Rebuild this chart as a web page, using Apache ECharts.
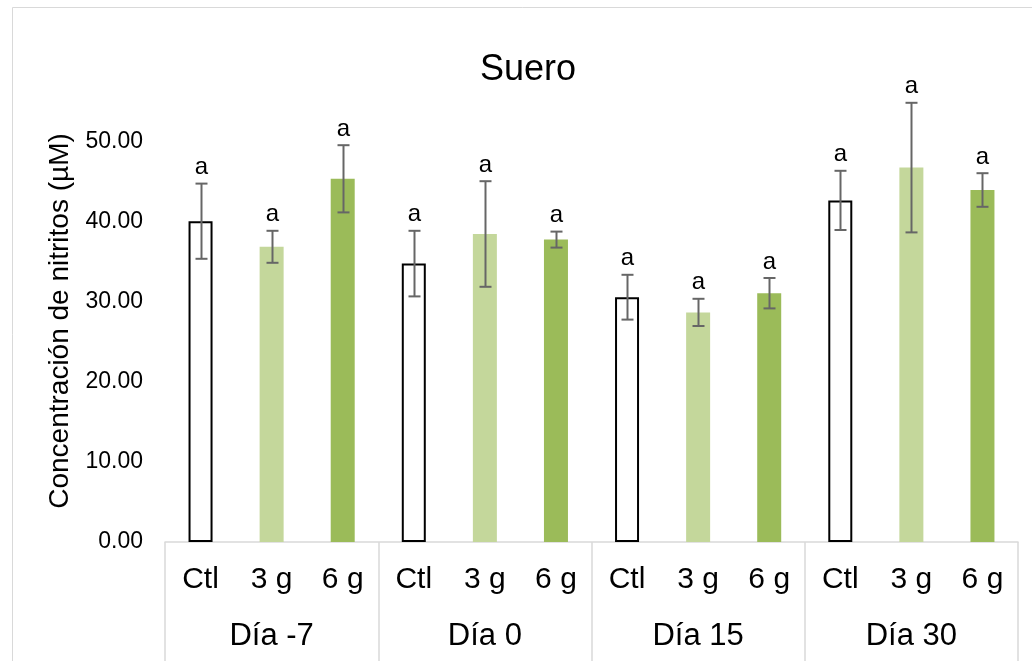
<!DOCTYPE html>
<html>
<head>
<meta charset="utf-8">
<script src="https://cdn.jsdelivr.net/npm/echarts@6/dist/echarts.min.js"></script>
<style>
html,body{margin:0;padding:0;background:#fff;}
#main{width:1032px;height:661px;}
</style>
</head>
<body>
<div id="main"></div>
<script>
// ---- data ----
var groups = ['Día -7', 'Día 0', 'Día 15', 'Día 30'];
var treatments = ['Ctl', '3 g', '6 g'];
var ctlMean = [40.1, 34.8, 30.6, 42.7];
var g3Mean  = [36.9, 38.5, 28.7, 46.8];
var g6Mean  = [45.4, 37.8, 31.1, 44.0];
var ctlErr  = [4.7, 4.1, 2.8, 3.7];
var g3Err   = [2.0, 6.6, 1.7, 8.1];
var g6Err   = [4.2, 1.0, 1.9, 2.1];
var letters = ['a', 'a', 'a', 'a', 'a', 'a', 'a', 'a', 'a', 'a', 'a', 'a'];
var yTicks = [0, 10, 20, 30, 40, 50];
var yTitle = 'Concentración de nitritos (µM)';

// ---- build ----
var means = [ctlMean, g3Mean, g6Mean];
var errs = [ctlErr, g3Err, g6Err];
var styles = [
  {color: '#ffffff', borderColor: '#000000', borderWidth: 2},
  {color: '#c4d79b', borderWidth: 0},
  {color: '#9bbb59', borderWidth: 0}
];
var inner = [], barData = [], errData = [];
for (var g = 0; g < groups.length; g++) {
  for (var t = 0; t < treatments.length; t++) {
    var idx = inner.length;
    inner.push(treatments[t]);
    barData.push({value: means[t][g], itemStyle: styles[t]});
    errData.push([idx, means[t][g], errs[t][g], letters[idx]]);
  }
}

var chart = echarts.init(document.getElementById('main'));
var font = 'Liberation Sans, Arial, sans-serif';
chart.setOption({
  animation: false,
  backgroundColor: '#ffffff',
  title: {
    text: 'Suero',
    left: 475,
    top: 47,
    textStyle: {fontFamily: font, fontSize: 36, fontWeight: 'normal', color: '#000'}
  },
  graphic: [{
    type: 'rect',
    shape: {x: 12.5, y: 7.5, width: 1040, height: 680},
    style: {fill: 'none', stroke: '#d9d9d9', lineWidth: 1},
    silent: true
  }, {
    type: 'text',
    x: 60, y: 321,
    rotation: Math.PI / 2,
    style: {text: yTitle, font: '28px ' + font, fill: '#000',
      textAlign: 'center', textVerticalAlign: 'middle'},
    silent: true
  }],
  grid: {left: 165, right: 14, top: 142, bottom: 119, containLabel: false},
  xAxis: [{
    type: 'category',
    data: inner,
    position: 'bottom',
    axisLine: {show: true, lineStyle: {color: '#d9d9d9', width: 1.5}},
    axisTick: {show: false},
    axisLabel: {fontFamily: font, fontSize: 30, color: '#000', margin: 23, interval: 0}
  }, {
    type: 'category',
    data: groups,
    position: 'bottom',
    offset: 0,
    axisLine: {show: false},
    axisTick: {show: true, length: 125, lineStyle: {color: '#d9d9d9', width: 1.5}},
    axisLabel: {fontFamily: font, fontSize: 31, color: '#000', margin: 79, interval: 0}
  }],
  yAxis: {
    type: 'value',
    min: yTicks[0],
    max: yTicks[yTicks.length - 1],
    interval: 10,
    axisLine: {show: false},
    axisTick: {show: false},
    splitLine: {show: false},
    axisLabel: {fontFamily: font, fontSize: 23, color: '#000', margin: 22,
      formatter: function (v) { return v.toFixed(2); }}
  },
  series: [{
    type: 'bar',
    xAxisIndex: 0,
    barWidth: 24,
    data: barData
  }, {
    type: 'custom',
    xAxisIndex: 0,
    clip: false,
    z: 10,
    data: errData,
    renderItem: function (params, api) {
      var x = api.value(0), m = api.value(1), e = api.value(2);
      var top = api.coord([x, m + e]);
      var bot = api.coord([x, m - e]);
      var cx = Math.round(top[0]) + 0.5;
      var hw = 6;
      var ls = {stroke: '#666666', lineWidth: 2};
      return {
        type: 'group',
        children: [
          {type: 'line', shape: {x1: cx, y1: top[1], x2: cx, y2: bot[1]}, style: ls},
          {type: 'line', shape: {x1: cx - hw, y1: top[1], x2: cx + hw, y2: top[1]}, style: ls},
          {type: 'line', shape: {x1: cx - hw, y1: bot[1], x2: cx + hw, y2: bot[1]}, style: ls},
          {type: 'text', style: {text: errData[params.dataIndex][3], x: cx, y: top[1] - 4,
            textAlign: 'center', textVerticalAlign: 'bottom',
            font: '24px ' + font, fill: '#000'}}
        ]
      };
    }
  }]
});
</script>
</body>
</html>
